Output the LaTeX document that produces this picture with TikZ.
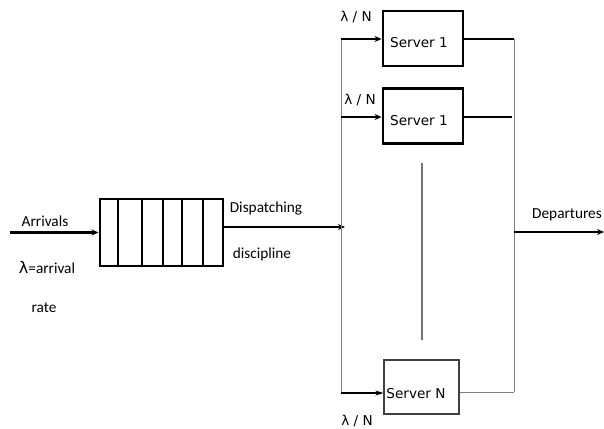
\documentclass[tikz,border=0pt]{standalone}
\usepackage{fontspec}
\setmainfont{Carlito}
\newfontfamily\srvfont{DejaVu Sans}
\usetikzlibrary{arrows.meta}
\begin{document}
\begin{tikzpicture}[x=1pt,y=-1pt,
  heavy/.style={line width=2.9pt},
  grayline/.style={line width=1pt,draw=black!50},
  lbl/.style={inner sep=0pt,font=\fontsize{15.3}{18}\selectfont},
  srvlbl/.style={inner sep=0pt,font=\srvfont\fontsize{13.6}{16}\selectfont},
  lamlbl/.style={inner sep=0pt,font=\srvfont\fontsize{13.6}{16}\selectfont},
  bigbox/.style={draw,line width=2.9pt,minimum width=80pt,minimum height=55pt,inner sep=0pt},
  thinbox/.style={draw=black!75,line width=1.1pt,minimum width=75pt,minimum height=54pt,inner sep=0pt},
  tip/.style={-{Stealth[length=7pt,width=6pt]}}
]
\useasboundingbox (0,0) rectangle (604,428);

% queue
\node[draw,heavy,minimum width=123pt,minimum height=67pt,inner sep=0pt] (q) at (161.5,232.5) {};
\draw[line width=2pt] (118,0 |- q.north) -- (118,0 |- q.south);
\foreach \x in {142,163,182,203}
  \draw[heavy] (\x,0 |- q.north) -- (\x,0 |- q.south);

% arrivals
\coordinate (ain) at (10,232.5);
\draw[heavy,tip] (ain) -- (q.west);
\node[lbl] (arr) at (45,221) {Arrivals};
\node[lbl] (lam) at (47,267) {{\srvfont\fontsize{16}{18}\selectfont λ}=arrival};
\node[lbl] (rate) at (44,308) {rate};

% dispatch
\coordinate (qout) at (223,227);
\coordinate (disp) at (345,227);
\draw[heavy,tip] (qout) -- (disp);
\node[lbl] (dsp) at (266,208) {Dispatching};
\node[lbl] (dsc) at (262,254) {discipline};

% fan-out skeleton
\coordinate (tl) at (341,39);
\coordinate (bl) at (341,393);
\coordinate (tr) at (514,39);
\coordinate (br) at (514,392);
\draw[grayline] (tl) -- (bl);
\draw[grayline] (tr) -- (br);

% servers
\node[bigbox] (s1) at (423,38.5) {};
\node[bigbox] (s2) at (423,116) {};
\node[thinbox] (sN) at (421.5,387) {};
\node[srvlbl] (s1t) at (419,43) {Server 1};
\node[srvlbl] (s2t) at (419,121) {Server 1};
\node[srvlbl] (sNt) at (416,394) {Server N};

% server 1
\draw[heavy,tip] (tl) -- (s1.west |- tl);
\draw[heavy] (s1.east |- tr) -- (tr);
% server 2
\coordinate (m2l) at (341,117);
\coordinate (m2r) at (512,117);
\draw[heavy,tip] (m2l) -- (s2.west |- m2l);
\draw[heavy] (s2.east |- m2r) -- (m2r);
% server N
\draw[line width=1.2pt,-{Stealth[length=8pt,width=5pt]}] (bl) -- (sN.west |- bl);
\draw[grayline] (sN.east |- br) -- (br);

% ellipsis line
\coordinate (d1) at (422,163);
\coordinate (d2) at (422,340);
\draw[line width=1.3pt,draw=black!55] (d1) -- (d2);

% rate labels
\node[lamlbl] (l1) at (356,17) {λ / N};
\node[lamlbl] (l2) at (360,100) {λ / N};
\node[lamlbl] (l3) at (357,421) {λ / N};

% departures
\coordinate (dep) at (514,232);
\coordinate (dout) at (604,232);
\draw[heavy,tip] (dep) -- (dout);
\node[lbl] (dpt) at (567,215) {Departures};
\end{tikzpicture}
\end{document}
